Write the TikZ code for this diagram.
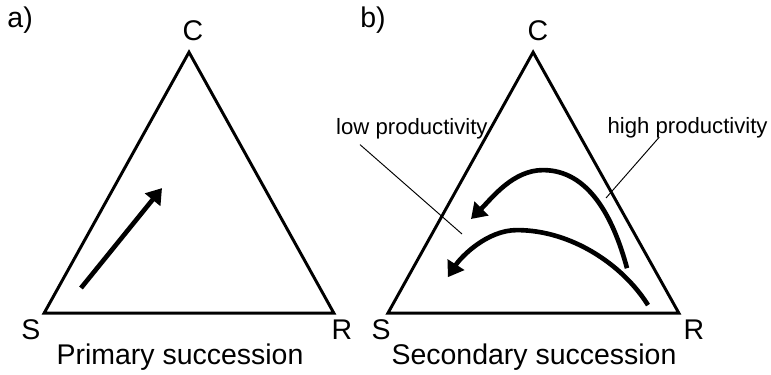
\documentclass[tikz,border=0pt]{standalone}
\usepackage{fontspec}
\setmainfont{Liberation Sans}
\usetikzlibrary{arrows.meta, calc, positioning}

\begin{document}
\begin{tikzpicture}[
    tri/.style={draw, line width=2.8pt, line join=miter},
    succ/.style={-{Triangle[length=0.5cm, width=0.64cm]}, line width=4.4pt},
    lbl/.style={inner sep=0pt, font=\fontsize{27}{30}\selectfont},
    note/.style={inner sep=0pt, font=\fontsize{21}{24}\selectfont},
    lead/.style={line width=0.9pt}
  ]
  \useasboundingbox (0,0) rectangle (25.7,12.47);

  % a) Primary succession
  \coordinate (aS) at (1.47,2.03);
  \coordinate (aC) at (6.30,10.73);
  \coordinate (aR) at (11.13,2.03);
  \draw[tri] (aS) -- (aC) -- (aR) -- cycle;

  \node[lbl] (atag) at (0.67,11.8) {a)};
  \node[lbl] (aClbl) at (6.43,11.43) {C};
  \node[lbl] (aSlbl) at (1.03,1.47) {S};
  \node[lbl] (aRlbl) at (11.4,1.47) {R};
  \node[lbl] (aname) at (6.0,0.58) {Primary succession};

  \coordinate (p0) at (2.7,2.87);
  \coordinate (p1) at (5.4,6.2);
  \draw[succ] (p0) -- (p1);

  % b) Secondary succession
  \coordinate (bS) at (12.93,2.03);
  \coordinate (bC) at (17.77,10.73);
  \coordinate (bR) at (22.63,2.03);
  \draw[tri] (bS) -- (bC) -- (bR) -- cycle;

  \node[lbl] (btag) at (12.43,11.8) {b)};
  \node[lbl] (bClbl) at (17.93,11.43) {C};
  \node[lbl] (bSlbl) at (12.7,1.47) {S};
  \node[lbl] (bRlbl) at (23.13,1.47) {R};
  \node[lbl] (bname) at (17.8,0.58) {Secondary succession};

  % Pfade
  \coordinate (hi0) at (20.9,3.53);
  \coordinate (hitop) at (18.1,6.8);
  \coordinate (hi1) at (15.7,5.17);
  \coordinate (lo0) at (21.6,2.3);
  \coordinate (lotop) at (17.23,4.8);
  \coordinate (lo1) at (14.93,3.23);
  \draw[succ] (hi0) .. controls (20.43,5.27) and (19.6,6.8) .. (hitop)
    .. controls (17.1,6.8) and (16.4,5.87) .. (hi1);
  \draw[succ] (lo0) .. controls (20.75,3.66) and (19.03,4.8) .. (lotop)
    .. controls (16.23,4.8) and (15.36,3.9) .. (lo1);

  % Beschriftung
  \node[note] (low) at (13.73,8.17) {low productivity};
  \node[note] (high) at (22.92,8.2) {high productivity};
  \coordinate (lowend) at (15.4,4.67);
  \coordinate (highend) at (20.2,5.87);
  \draw[lead] ($(low.south west)+(0.8,-0.17)$) -- (lowend);
  \draw[lead] ($(high.south west)+(1.73,0.05)$) -- (highend);
\end{tikzpicture}
\end{document}
